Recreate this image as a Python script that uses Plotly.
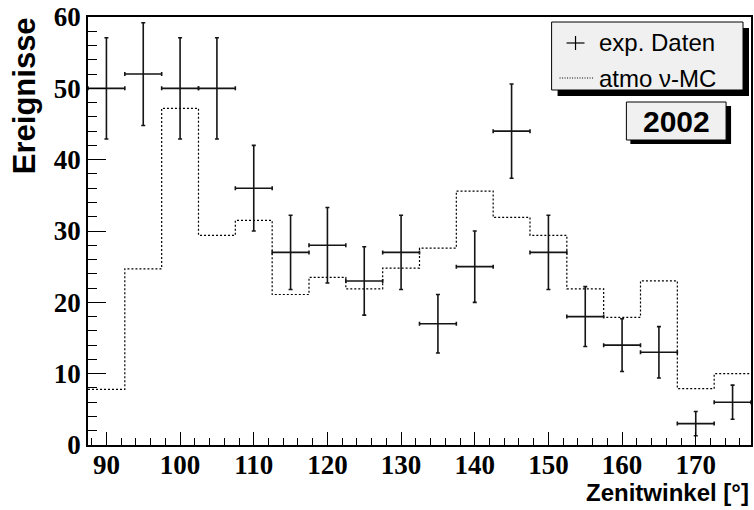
import plotly.graph_objects as go

# ---- data ----
bin_centers = [90, 95, 100, 105, 110, 115, 120, 125, 130, 135, 140, 145, 150, 155, 160, 165, 170, 175]
bin_half_width = 2.5
data_counts = [50, 52, 50, 50, 36, 27, 28, 23, 27, 17, 25, 44, 27, 18, 14, 13, 3, 6]
data_errors = [7.1, 7.2, 7.1, 7.1, 6.0, 5.2, 5.3, 4.8, 5.2, 4.1, 5.0, 6.6, 5.2, 4.2, 3.7, 3.6, 1.7, 2.4]
mc_counts = [7.8, 24.7, 47.2, 29.4, 31.5, 21.1, 23.5, 21.9, 24.8, 27.6, 35.6, 31.9, 29.4, 21.9, 17.9, 23.0, 7.9, 10.0]
x_ticks = [90, 100, 110, 120, 130, 140, 150, 160, 170]
y_ticks = [0, 10, 20, 30, 40, 50, 60]

W, H = 754, 510
L, R, T, B = 88, 1, 17, 65
PW, PH = W - L - R, H - T - B


def px(x):
    return (x - L) / PW


def py(y):
    return (H - B - y) / PH


edges = [c - bin_half_width for c in bin_centers] + [bin_centers[-1] + bin_half_width]
mc_y = mc_counts + [mc_counts[-1]]

fig = go.Figure()
fig.add_trace(go.Scatter(
    x=edges, y=mc_y, mode="lines", line_shape="hv",
    line=dict(color="black", width=1.2, dash="2px,2px"),
    hoverinfo="skip", showlegend=False,
))
fig.add_trace(go.Scatter(
    x=bin_centers, y=data_counts, mode="markers",
    marker=dict(color="rgba(0,0,0,0)", size=1),
    error_x=dict(type="constant", value=bin_half_width, color="#151515", thickness=1.6, width=2),
    error_y=dict(type="data", array=data_errors, color="#151515", thickness=1.6, width=2),
    showlegend=False,
))

tickfont = dict(family="Liberation Serif", size=27, color="black", weight="bold")
fig.update_layout(
    width=W, height=H,
    margin=dict(l=L, r=R, t=T, b=B, pad=0),
    paper_bgcolor="white", plot_bgcolor="white",
    showlegend=False,
    xaxis=dict(
        range=[87.5, 177.5], tickvals=x_ticks, ticks="inside", ticklen=13, tickwidth=1.2,
        tickcolor="black", showgrid=False, zeroline=False, showline=True, linecolor="black",
        linewidth=1.5, mirror=True, tickfont=tickfont, ticklabelstandoff=-5,
        minor=dict(ticks="inside", ticklen=7, dtick=2, tick0=0, tickcolor="black", tickwidth=1, showgrid=False),
    ),
    yaxis=dict(
        range=[0, 60], tickvals=y_ticks, ticks="inside", ticklen=18, tickwidth=1.2,
        tickcolor="black", showgrid=False, zeroline=False, showline=True, linecolor="black",
        linewidth=1.5, mirror=True, tickfont=tickfont, ticklabelstandoff=0,
        minor=dict(ticks="inside", ticklen=9, dtick=2, tick0=0, tickcolor="black", tickwidth=1, showgrid=False),
    ),
)

shapes = []
annotations = []

# axis titles
annotations.append(dict(
    text="<b>Ereignisse</b>", xref="paper", yref="paper", x=px(24), y=py(96),
    xanchor="center", yanchor="middle", textangle=-90, showarrow=False,
    font=dict(family="Liberation Sans", size=31, color="black"),
))
annotations.append(dict(
    text="<b>Zenitwinkel [°]</b>", xref="paper", yref="paper", x=px(753), y=py(492),
    xanchor="right", yanchor="middle", showarrow=False,
    font=dict(family="Liberation Sans", size=24, color="black"),
))

# legend box with shadow
shapes.append(dict(type="rect", xref="paper", yref="paper", x0=px(559), x1=px(751), y0=py(28), y1=py(96),
                   fillcolor="black", line=dict(width=0), layer="above"))
shapes.append(dict(type="rect", xref="paper", yref="paper", x0=px(553), x1=px(745), y0=py(22), y1=py(90),
                   fillcolor="#f0f0f0", line=dict(color="black", width=1), layer="above"))
# legend symbols
shapes.append(dict(type="line", xref="paper", yref="paper", x0=px(568), x1=px(586), y0=py(43), y1=py(43),
                   line=dict(color="black", width=1.2), layer="above"))
shapes.append(dict(type="line", xref="paper", yref="paper", x0=px(577), x1=px(577), y0=py(36), y1=py(50),
                   line=dict(color="black", width=1.2), layer="above"))
shapes.append(dict(type="line", xref="paper", yref="paper", x0=px(561), x1=px(595), y0=py(78), y1=py(78),
                   line=dict(color="black", width=1, dash="1px,1.5px"), layer="above"))
annotations.append(dict(
    text="exp. Daten", xref="paper", yref="paper", x=px(599), y=py(43),
    xanchor="left", yanchor="middle", showarrow=False,
    font=dict(family="Liberation Sans", size=24, color="black"),
))
annotations.append(dict(
    text="atmo ν-MC", xref="paper", yref="paper", x=px(599), y=py(78),
    xanchor="left", yanchor="middle", showarrow=False,
    font=dict(family="Liberation Sans", size=24, color="black"),
))

# 2002 box
shapes.append(dict(type="rect", xref="paper", yref="paper", x0=px(632), x1=px(733), y0=py(106), y1=py(144),
                   fillcolor="black", line=dict(width=0), layer="above"))
shapes.append(dict(type="rect", xref="paper", yref="paper", x0=px(628), x1=px(728), y0=py(102), y1=py(140),
                   fillcolor="#f0f0f0", line=dict(color="black", width=1), layer="above"))
annotations.append(dict(
    text="<b>2002</b>", xref="paper", yref="paper", x=px(678), y=py(121),
    xanchor="center", yanchor="middle", showarrow=False,
    font=dict(family="Liberation Sans", size=30, color="black"),
))

fig.update_layout(shapes=shapes, annotations=annotations)
fig.write_html("out.html")
